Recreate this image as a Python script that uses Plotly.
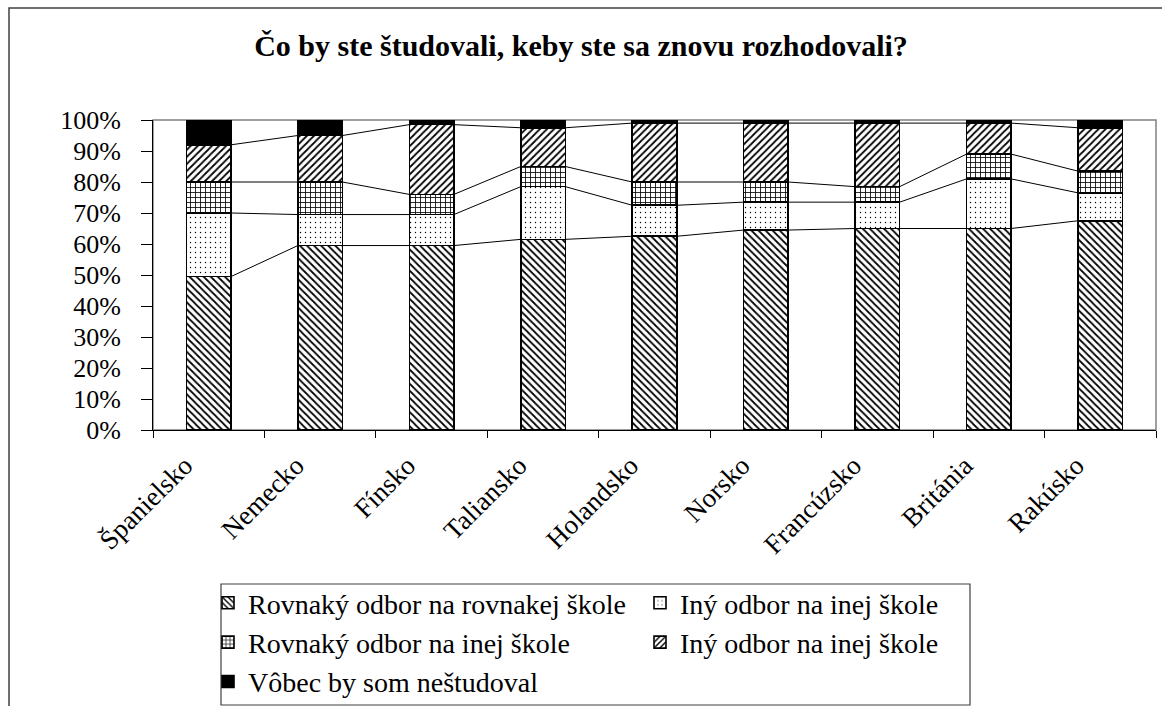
import plotly.graph_objects as go

# data (percent of respondents)
countries = ["Španielsko", "Nemecko", "Fínsko", "Taliansko", "Holandsko",
             "Norsko", "Francúzsko", "Británia", "Rakúsko"]
series_names = ["Rovnaký odbor na rovnakej škole", "Iný odbor na inej škole",
                "Rovnaký odbor na inej škole", "Iný odbor na inej škole",
                "Vôbec by som neštudoval"]
same_same = [49.5, 59.5, 59.5, 61.5, 62.5, 64.5, 65, 65, 67.5]
other_other_a = [20.5, 10, 10, 17, 10, 9, 8.5, 16, 9]
same_other = [10, 10.5, 6.5, 6.5, 7.5, 6.5, 5, 8, 7]
other_other_b = [12, 15, 22.5, 12.5, 19, 19, 20.5, 10, 14]
never = [8, 5, 1.5, 2.5, 1, 1, 1, 1, 2.5]
y_ticks = [0, 10, 20, 30, 40, 50, 60, 70, 80, 90, 100]
y_labels = ["%d%%" % v for v in y_ticks]
title = "Čo by ste študovali, keby ste sa znovu rozhodovali?"

FONT = "Liberation Serif"
W, H = 1162, 706
ML, MR, MT, MB = 153, 6, 120, 276
BARGAP = 0.6

values = [same_same, other_other_a, same_other, other_other_b, never]
patterns = [
    dict(shape="\\", size=5, solidity=0.35),
    dict(shape=".", size=5, solidity=0.06),
    dict(shape="+", size=5, solidity=0.3),
    dict(shape="/", size=5, solidity=0.35),
    None,
]
legend_ids = ["legend", "legend2", "legend", "legend2", "legend"]

fig = go.Figure()
for i, (name, vals, pat) in enumerate(zip(series_names, values, patterns)):
    marker = dict(color="white", line=dict(color="black", width=1.6))
    if pat is None:
        marker["color"] = "black"
    else:
        marker["pattern"] = dict(fgcolor="black", bgcolor="white",
                                 fillmode="replace", **pat)
    fig.add_trace(go.Bar(x=countries, y=vals, name=name, marker=marker,
                         legend=legend_ids[i], legendgroup="g%d" % i))

# series lines between neighbouring bars (Excel style)
half = (1 - BARGAP) / 2
cum = [0] * len(countries)
for vals in values[:-1]:
    cum = [c + v for c, v in zip(cum, vals)]
    xs, ys = [], []
    for k in range(len(countries) - 1):
        xs += [k + half, k + 1 - half, None]
        ys += [cum[k], cum[k + 1], None]
    fig.add_trace(go.Scatter(x=xs, y=ys, xaxis="x2", mode="lines",
                             line=dict(color="black", width=1),
                             showlegend=False, hoverinfo="skip"))

pw = W - ML - MR
ph = H - MT - MB


def px_x(v):
    return (v - ML) / pw


def px_y(v):
    return (H - MB - v) / ph


leg_common = dict(orientation="v", yanchor="top", traceorder="normal",
                  bgcolor="rgba(0,0,0,0)", tracegroupgap=9,
                  font=dict(family=FONT, size=28, color="black"))

fig.update_layout(
    width=W, height=H,
    margin=dict(l=ML, r=MR, t=MT, b=MB, autoexpand=False),
    paper_bgcolor="white", plot_bgcolor="white",
    barmode="stack", bargap=BARGAP,
    font=dict(family=FONT, size=25, color="black"),
    title=dict(text="<b>" + title + "</b>", x=0.5, xref="container",
               y=1 - 45 / H, yanchor="middle",
               font=dict(family=FONT, size=30, color="black")),
    xaxis=dict(type="category", tickson="boundaries", ticks="outside",
               ticklen=7, tickcolor="black", showline=True, linecolor="black",
               linewidth=1, tickangle=-45, showgrid=False,
               ticklabelshift=-24, ticklabelstandoff=8,
               tickfont=dict(family=FONT, size=27)),
    xaxis2=dict(overlaying="x", range=[-0.5, len(countries) - 0.5],
                visible=False),
    yaxis=dict(range=[0, 100], tickvals=y_ticks, ticktext=y_labels,
               ticks="outside", ticklen=11, tickcolor="black", showline=True,
               linecolor="black", linewidth=1, showgrid=False, zeroline=False,
               ticklabelstandoff=15,
               tickfont=dict(family=FONT, size=26)),
    legend=dict(x=px_x(208), y=px_y(578), **leg_common),
    legend2=dict(x=px_x(640), y=px_y(578), **leg_common),
    shapes=[
        # plot area border
        dict(type="rect", xref="paper", yref="paper", x0=0, x1=1, y0=0, y1=1,
             line=dict(color="#808080", width=1.5), layer="below"),
        # legend box
        dict(type="rect", xref="paper", yref="paper",
             x0=px_x(221), x1=px_x(970), y0=px_y(705), y1=px_y(584),
             line=dict(color="#404040", width=1.2)),
        # chart border
        dict(type="rect", xref="paper", yref="paper",
             x0=px_x(9), x1=px_x(1170), y0=px_y(720), y1=px_y(8),
             line=dict(color="#404040", width=1.5)),
    ],
)

fig.write_html("out.html", config={"displayModeBar": False},
               post_script="document.body.style.margin='0';")
